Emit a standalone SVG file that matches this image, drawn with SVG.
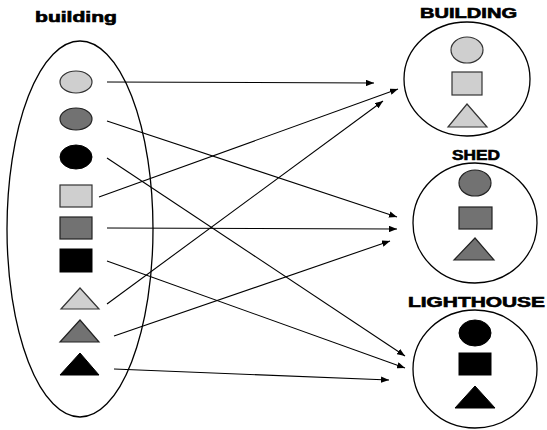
<svg xmlns="http://www.w3.org/2000/svg" width="547" height="430" viewBox="0 0 547 430">
<style>
.title{font-family:"Liberation Sans",Arial,sans-serif;font-weight:bold;font-size:14px;fill:#000;stroke:#000;stroke-width:0.6}
.frame{fill:none;stroke:#000;stroke-width:1.3}
.light{fill:#cfcfcf;stroke:#333;stroke-width:1.2}
.mid{fill:#727272;stroke:#222;stroke-width:1.2}
.dark{fill:#000;stroke:#000;stroke-width:1}
.conn{stroke:#000;stroke-width:1.1;fill:none;marker-end:url(#ah)}
</style>
<defs>
<marker id="ah" viewBox="0 0 10 8" refX="10" refY="4" markerWidth="8" markerHeight="6.4" markerUnits="userSpaceOnUse" orient="auto">
<path d="M0,0 L10,4 L0,8 z" fill="#000"/>
</marker>
</defs>
<rect width="547" height="430" fill="#fff"/>

<g id="source">
<text class="title" x="35" y="22" textLength="82" lengthAdjust="spacingAndGlyphs">building</text>
<ellipse class="frame" cx="80" cy="229" rx="73" ry="188"/>
<ellipse class="light" cx="76" cy="82" rx="16" ry="11"/>
<ellipse class="mid" cx="76" cy="119" rx="16" ry="11"/>
<ellipse class="dark" cx="76" cy="157" rx="16" ry="12"/>
<rect class="light" x="60" y="185" width="32" height="22"/>
<rect class="mid" x="60" y="217" width="32" height="22"/>
<rect class="dark" x="60" y="249" width="32" height="23"/>
<path class="light" d="M80,288 L99,309 L61,309 z"/>
<path class="mid" d="M80,320 L99,342 L60,342 z"/>
<path class="dark" d="M80,353 L99,375 L60,375 z"/>
</g>

<g id="building">
<text class="title" x="420" y="18" textLength="97" lengthAdjust="spacingAndGlyphs">BUILDING</text>
<ellipse class="frame" cx="467" cy="79" rx="63" ry="57"/>
<ellipse class="light" cx="467" cy="50" rx="16" ry="13"/>
<rect class="light" x="452" y="72" width="30" height="23"/>
<path class="light" d="M467,104 L487,127 L448,127 z"/>
</g>

<g id="shed">
<text class="title" x="452" y="160" textLength="48" lengthAdjust="spacingAndGlyphs">SHED</text>
<ellipse class="frame" cx="475" cy="223" rx="62" ry="60"/>
<ellipse class="mid" cx="475" cy="183" rx="16" ry="13"/>
<rect class="mid" x="459" y="207" width="33" height="22"/>
<path class="mid" d="M475,238 L494,260 L454,260 z"/>
</g>

<g id="lighthouse">
<text class="title" x="408" y="307" textLength="137" lengthAdjust="spacingAndGlyphs">LIGHTHOUSE</text>
<ellipse class="frame" cx="475" cy="369" rx="62" ry="59"/>
<ellipse class="dark" cx="475" cy="333" rx="16" ry="13"/>
<rect class="dark" x="459" y="353" width="32" height="22"/>
<path class="dark" d="M475,386 L495,408 L455,408 z"/>
</g>

<g id="connectors">
<line class="conn" x1="107" y1="82" x2="374" y2="83"/>
<line class="conn" x1="99" y1="197" x2="398" y2="89"/>
<line class="conn" x1="107" y1="304" x2="383" y2="101"/>
<line class="conn" x1="107" y1="121" x2="397" y2="217"/>
<line class="conn" x1="107" y1="228" x2="397" y2="229"/>
<line class="conn" x1="114" y1="336" x2="390" y2="241"/>
<line class="conn" x1="107" y1="158" x2="405" y2="356"/>
<line class="conn" x1="107" y1="261" x2="405" y2="368"/>
<line class="conn" x1="114" y1="369" x2="389" y2="380"/>
</g>
</svg>
